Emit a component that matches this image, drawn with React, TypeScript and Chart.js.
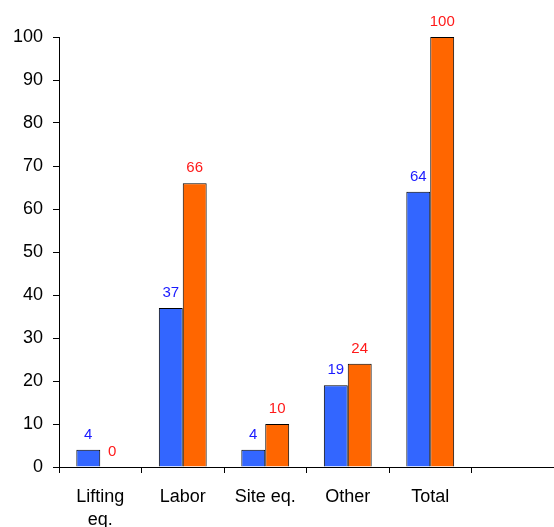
import React, { useEffect, useRef } from "react";
import { Chart, registerables } from "chart.js";

Chart.register(...registerables);

const categories: (string | string[])[] = [["Lifting", "eq."], "Labor", "Site eq.", "Other", "Total", ""];
const seriesA: (number | null)[] = [4, 37, 4, 19, 64, null];
const seriesB: (number | null)[] = [0, 66, 10, 24, 100, null];
const yTicks = { min: 0, max: 100, step: 10 };

const labelPlugin = {
  id: "valueLabels",
  afterDatasetsDraw(chart: any) {
    const ctx = chart.ctx;
    const colors = ["#1a1aff", "#ff1a1a"];
    chart.data.datasets.forEach((ds: any, di: number) => {
      const meta = chart.getDatasetMeta(di);
      meta.data.forEach((bar: any, i: number) => {
        const v = ds.data[i];
        if (v === null || v === undefined) return;
        ctx.save();
        ctx.font = "15px 'Liberation Sans', Arial, sans-serif";
        ctx.fillStyle = colors[di];
        ctx.textAlign = "center";
        ctx.textBaseline = "middle";
        ctx.fillText(String(v), bar.x, bar.y - 15);
        ctx.restore();
      });
    });
  },
};

export default function App() {
  const ref = useRef<HTMLCanvasElement>(null);
  useEffect(() => {
    const chart = new Chart(ref.current!, {
      type: "bar",
      data: {
        labels: categories,
        datasets: [
          {
            data: seriesA,
            backgroundColor: "#3366ff",
            borderColor: "#000000",
            borderWidth: 1,
            borderSkipped: "bottom",
          },
          {
            data: seriesB,
            backgroundColor: "#ff6600",
            borderColor: "#000000",
            borderWidth: 1,
            borderSkipped: "bottom",
          },
        ],
      },
      options: {
        animation: false,
        responsive: false,
        maintainAspectRatio: false,
        layout: { padding: { top: 37, left: 0, right: 0, bottom: 0 } },
        plugins: { legend: { display: false }, tooltip: { enabled: false } },
        datasets: { bar: { categoryPercentage: 0.58, barPercentage: 1 } },
        scales: {
          x: {
            grid: {
              offset: true,
              drawOnChartArea: false,
              drawTicks: true,
              tickLength: 6,
              color: "#000",
            },
            border: { display: true, color: "#000", width: 1 },
            ticks: {
              color: "#000",
              font: { family: "'Liberation Sans', Arial, sans-serif", size: 18, lineHeight: 1.3 },
              padding: 12,
              maxRotation: 0,
              autoSkip: false,
            },
            afterFit: (s: any) => {
              s.height = 60;
            },
          },
          y: {
            min: yTicks.min,
            max: yTicks.max,
            grid: {
              drawOnChartArea: false,
              drawTicks: true,
              tickLength: 6,
              color: "#000",
            },
            border: { display: true, color: "#000", width: 1 },
            ticks: {
              stepSize: yTicks.step,
              color: "#000",
              font: { family: "'Liberation Sans', Arial, sans-serif", size: 18 },
              padding: 10,
            },
            afterFit: (s: any) => {
              s.width = 59;
            },
          },
        },
      },
      plugins: [labelPlugin],
    });
    return () => chart.destroy();
  }, []);
  return (
    <div style={{ position: "fixed", left: 0, top: 0, width: 554, height: 527, background: "#fff" }}>
      <canvas ref={ref} width={554} height={527} style={{ width: 554, height: 527 }} />
    </div>
  );
}
